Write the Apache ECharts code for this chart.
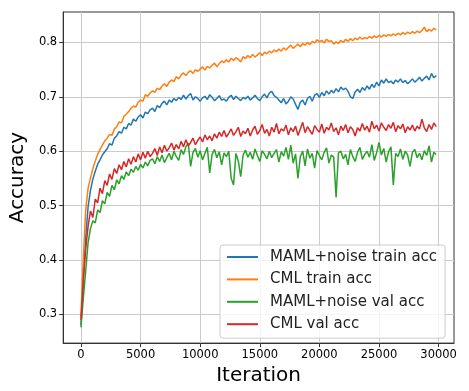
<!DOCTYPE html>
<html>
<head>
<meta charset="utf-8">
<script src="https://cdn.jsdelivr.net/npm/echarts@6/dist/echarts.min.js"></script>
<style>
  html, body { margin: 0; padding: 0; background: #fff; }
  #main { width: 469px; height: 391px; }
</style>
</head>
<body>
<div id="main"></div>
<script>
// iteration step between logged points
var STEP = 200;
var xTicks = [0, 5000, 10000, 15000, 20000, 25000, 30000];
var yTicks = [0.3, 0.4, 0.5, 0.6, 0.7, 0.8];
var names = ['MAML+noise train acc', 'CML train acc', 'MAML+noise val acc', 'CML val acc'];

// MAML+noise train acc
var mamlTrain = [
  0.28, 0.362, 0.441, 0.498, 0.528, 0.549, 0.563, 0.576, 0.584, 0.593,
  0.599, 0.605, 0.614, 0.611, 0.624, 0.628, 0.636, 0.633, 0.644, 0.641,
  0.651, 0.648, 0.659, 0.655, 0.663, 0.667, 0.661, 0.672, 0.669, 0.676,
  0.679, 0.673, 0.684, 0.68, 0.688, 0.692, 0.685, 0.694, 0.69, 0.697,
  0.693, 0.699, 0.695, 0.703, 0.696, 0.702, 0.706, 0.694, 0.7, 0.697,
  0.692, 0.698, 0.701, 0.695, 0.704, 0.699, 0.693, 0.697, 0.702, 0.694,
  0.696, 0.692, 0.699, 0.703, 0.695, 0.701, 0.697, 0.693, 0.699, 0.696,
  0.701, 0.694, 0.698, 0.703, 0.697, 0.693, 0.7, 0.705, 0.698, 0.707,
  0.71, 0.702, 0.699, 0.694, 0.689, 0.697, 0.687, 0.692, 0.7, 0.696,
  0.686, 0.677, 0.69, 0.694, 0.685, 0.697, 0.701, 0.692, 0.703, 0.706,
  0.699, 0.708, 0.702, 0.711, 0.705, 0.712, 0.707, 0.715, 0.709, 0.718,
  0.713, 0.716, 0.71, 0.7, 0.697, 0.709, 0.714, 0.708, 0.717, 0.712,
  0.72, 0.714, 0.723, 0.717, 0.727, 0.72, 0.731, 0.725, 0.733, 0.726,
  0.729, 0.724, 0.731, 0.727, 0.733, 0.726, 0.73, 0.724, 0.728, 0.733,
  0.727, 0.731, 0.736, 0.729, 0.734, 0.738, 0.731, 0.743, 0.735, 0.739
];
// CML train acc
var cmlTrain = [
  0.295, 0.405, 0.492, 0.532, 0.551, 0.568, 0.582, 0.594, 0.603, 0.611,
  0.619, 0.624, 0.631, 0.629, 0.641, 0.645, 0.654, 0.652, 0.664, 0.668,
  0.673, 0.679, 0.683, 0.681, 0.69, 0.694, 0.692, 0.704, 0.701, 0.707,
  0.711, 0.708, 0.716, 0.713, 0.72, 0.724, 0.719, 0.727, 0.731, 0.728,
  0.737, 0.733, 0.74, 0.744, 0.739, 0.745, 0.748, 0.743, 0.75, 0.747,
  0.751, 0.755, 0.749, 0.756, 0.753, 0.758, 0.762, 0.755, 0.761, 0.766,
  0.763, 0.768, 0.764, 0.771, 0.767, 0.772, 0.769, 0.764, 0.774, 0.77,
  0.776, 0.772, 0.778, 0.773, 0.777, 0.781, 0.776, 0.782, 0.779, 0.784,
  0.781, 0.786, 0.783, 0.788, 0.784, 0.79, 0.786, 0.791, 0.795, 0.789,
  0.793, 0.797, 0.792, 0.798, 0.795, 0.8, 0.796, 0.802, 0.799, 0.805,
  0.801, 0.804, 0.799, 0.806, 0.802, 0.803, 0.797, 0.801, 0.798, 0.804,
  0.8, 0.806, 0.802, 0.807, 0.803, 0.808, 0.805, 0.81, 0.806, 0.809,
  0.807, 0.811, 0.808, 0.812, 0.809, 0.813, 0.81, 0.814, 0.811, 0.815,
  0.812, 0.816, 0.813, 0.817, 0.814, 0.818, 0.815, 0.819, 0.816, 0.82,
  0.817, 0.821, 0.818, 0.822, 0.828, 0.82, 0.824, 0.821, 0.826, 0.823
];
// MAML+noise val acc
var mamlVal = [
  0.276, 0.33, 0.38, 0.432, 0.458, 0.472, 0.468, 0.492, 0.487, 0.509,
  0.503, 0.524, 0.517, 0.537, 0.529, 0.547, 0.54, 0.555, 0.548, 0.562,
  0.555, 0.567, 0.561, 0.572, 0.565, 0.576, 0.569, 0.58, 0.573, 0.583,
  0.586, 0.577, 0.59, 0.581, 0.593, 0.579, 0.588, 0.596, 0.584, 0.6,
  0.59, 0.583, 0.603, 0.594, 0.608, 0.615, 0.572, 0.598, 0.605, 0.589,
  0.601, 0.584, 0.596, 0.607, 0.56, 0.594, 0.603, 0.588, 0.599, 0.575,
  0.597, 0.59, 0.6, 0.55, 0.538, 0.596, 0.582, 0.553, 0.593, 0.602,
  0.589, 0.598, 0.585, 0.604, 0.592, 0.581, 0.601, 0.594, 0.586, 0.6,
  0.588, 0.596, 0.603, 0.58, 0.599, 0.591, 0.607, 0.585, 0.611, 0.578,
  0.595, 0.55, 0.59, 0.6, 0.573, 0.604, 0.587, 0.596, 0.569, 0.601,
  0.592, 0.584, 0.598, 0.606, 0.578, 0.593, 0.589, 0.515, 0.597, 0.6,
  0.586, 0.594, 0.575, 0.603, 0.59, 0.581, 0.598, 0.607, 0.585, 0.594,
  0.6, 0.589, 0.612, 0.583, 0.597, 0.616, 0.593, 0.605, 0.58, 0.599,
  0.608, 0.538, 0.596, 0.59, 0.604, 0.585, 0.6, 0.593, 0.572, 0.598,
  0.603, 0.588, 0.596, 0.584, 0.601, 0.592, 0.61, 0.58, 0.598, 0.594
];
// CML val acc
var cmlVal = [
  0.29, 0.365, 0.42, 0.462, 0.49, 0.478, 0.512, 0.505, 0.532, 0.522,
  0.546, 0.537, 0.558, 0.548, 0.568, 0.559, 0.575, 0.566, 0.581, 0.571,
  0.586, 0.576, 0.59, 0.58, 0.595, 0.584, 0.598, 0.587, 0.6, 0.59,
  0.596, 0.605, 0.592, 0.608, 0.597, 0.611, 0.6, 0.606, 0.615, 0.602,
  0.612, 0.604, 0.618, 0.608, 0.621, 0.61, 0.616, 0.624, 0.612, 0.62,
  0.626, 0.617, 0.63, 0.621, 0.628, 0.619, 0.632, 0.624, 0.635, 0.627,
  0.638, 0.626, 0.633, 0.641, 0.629, 0.636, 0.644, 0.627, 0.637, 0.632,
  0.642, 0.628, 0.639, 0.646, 0.631, 0.638, 0.649, 0.633, 0.64, 0.628,
  0.644, 0.635, 0.651, 0.632, 0.641, 0.637, 0.648, 0.63, 0.643, 0.636,
  0.646, 0.629, 0.641, 0.653, 0.634, 0.645, 0.638, 0.631, 0.647, 0.64,
  0.635, 0.65, 0.633, 0.644, 0.639, 0.652, 0.636, 0.643, 0.63, 0.646,
  0.638, 0.649, 0.634, 0.645, 0.64, 0.628, 0.643, 0.637, 0.651, 0.639,
  0.646, 0.635, 0.655, 0.641, 0.648, 0.637, 0.652, 0.644, 0.638, 0.649,
  0.642, 0.653, 0.636, 0.647, 0.641, 0.65, 0.634, 0.645, 0.639, 0.648,
  0.637, 0.646, 0.641, 0.659, 0.643, 0.636, 0.649, 0.64, 0.652, 0.645
];

var colors = ['#1f77b4', '#ff7f0e', '#2ca02c', '#d62728'];
var allSeries = [mamlTrain, cmlTrain, mamlVal, cmlVal];

function pairs(arr) {
  var out = [];
  for (var i = 0; i < arr.length; i++) {
    out.push([i * STEP, arr[i]]);
  }
  return out;
}

var font = 'DejaVu Sans';
var chart = echarts.init(document.getElementById('main'));

var series = [];
for (var k = 0; k < allSeries.length; k++) {
  series.push({
    name: names[k],
    type: 'line',
    data: pairs(allSeries[k]),
    symbol: 'none',
    lineStyle: { color: colors[k], width: 1.5 },
    itemStyle: { color: colors[k] },
    z: 2 + k
  });
}

option = {
  animation: false,
  backgroundColor: '#fff',
  grid: {
    left: 55, right: 15, top: 12, bottom: 46,
    show: true, borderColor: '#333', borderWidth: 1
  },
  xAxis: {
    type: 'value',
    min: -1490,
    max: 31290,
    name: 'Iteration',
    nameLocation: 'middle',
    nameGap: 19,
    nameTextStyle: { fontFamily: font, fontSize: 20, color: '#000' },
    axisLine: { show: true, onZero: false, lineStyle: { color: '#333', width: 1 } },
    axisTick: { show: true, length: 4, lineStyle: { color: '#333' }, customValues: xTicks },
    axisLabel: {
      fontFamily: font, fontSize: 11.5, color: '#000', margin: 6,
      customValues: xTicks,
      formatter: function (v) { return String(v); }
    },
    splitLine: { show: true, lineStyle: { color: '#cbcbcb', width: 1 } }
  },
  yAxis: {
    type: 'value',
    min: 0.247,
    max: 0.856,
    name: 'Accuracy',
    nameLocation: 'middle',
    nameGap: 32,
    nameRotate: 90,
    nameTextStyle: { fontFamily: font, fontSize: 20, color: '#000' },
    axisLine: { show: true, onZero: false, lineStyle: { color: '#333', width: 1 } },
    axisTick: { show: true, length: 4, lineStyle: { color: '#333' }, customValues: yTicks },
    axisLabel: {
      fontFamily: font, fontSize: 11.5, color: '#000', margin: 6,
      customValues: yTicks,
      formatter: function (v) { return v.toFixed(1); }
    },
    splitLine: { show: true, lineStyle: { color: '#cbcbcb', width: 1 } }
  },
  legend: {
    data: names,
    orient: 'vertical',
    left: 220,
    top: 245,
    padding: [3, 8, 5, 7],
    itemGap: 4.4,
    itemWidth: 31,
    itemHeight: 2,
    icon: 'rect',
    backgroundColor: 'rgba(255,255,255,0.8)',
    borderColor: '#cccccc',
    borderWidth: 1,
    borderRadius: 3,
    textStyle: { fontFamily: font, fontSize: 15, color: '#222', lineHeight: 18, padding: [0, 0, 0, 7] }
  },
  series: series
};

chart.setOption(option);
</script>
</body>
</html>
